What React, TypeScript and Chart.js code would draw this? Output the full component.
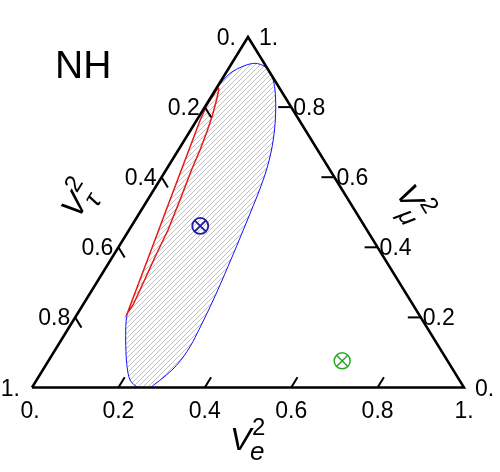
import React, { useEffect, useRef } from 'react';
import { Chart, registerables } from 'chart.js';

Chart.register(...registerables);

// ---------- data (ternary coordinates: V_e^2, V_mu^2 ; V_tau^2 = 1 - e - mu) ----------
const panelLabel = 'NH';
const labelValues = [0, 0.2, 0.4, 0.6, 0.8, 1];
const labelTexts = ['0.', '0.2', '0.4', '0.6', '0.8', '1.'];
const tickValues = [0.2, 0.4, 0.6, 0.8];

// blue allowed region outline (upper / right / lower boundary)
const blueE = [0.0, 0.010, 0.031, 0.054, 0.082, 0.112, 0.138, 0.1683, 0.194, 0.2156, 0.2325, 0.2449, 0.2549, 0.2644, 0.2738, 0.2826, 0.291, 0.2982, 0.3041, 0.3075, 0.3063, 0.3009, 0.2906, 0.2797, 0.273, 0.246, 0.2162, 0.1847, 0.1491, 0.1242, 0.1148];
const blueMu = [0.855, 0.896, 0.917, 0.925, 0.915, 0.887, 0.849, 0.7917, 0.7347, 0.6776, 0.6205, 0.5635, 0.5064, 0.4494, 0.3923, 0.3352, 0.2782, 0.2211, 0.1641, 0.1213, 0.0842, 0.0557, 0.03, 0.01, 0.0, 0.0, 0.0214, 0.069, 0.1355, 0.1869, 0.2117];

// red region: right side (top -> bottom tip) and left side (bottom tip -> top)
const redRightE = [0.0061, 0.017, 0.0291, 0.039, 0.0501, 0.0589, 0.0751, 0.0901, 0.098, 0.1109, 0.1161, 0.1148];
const redRightMu = [0.8536, 0.8203, 0.7775, 0.7347, 0.6776, 0.6205, 0.535, 0.4494, 0.378, 0.2782, 0.2354, 0.2117];
const redLeftE = [0.1074, 0.0798, 0.0519, 0.0244, 0.0078, 0.0023, 0.0028, 0.0026];
const redLeftMu = [0.2496, 0.3923, 0.535, 0.6776, 0.7632, 0.8031, 0.8345, 0.8536];

const bestFitE = [0.159];
const bestFitMu = [0.461];
const greenPointE = [0.680];
const greenPointMu = [0.076];

const triangleE = [0, 1, 0, 0];
const triangleMu = [0, 0, 1, 0];

const toXY = (e: number[], mu: number[]) => e.map((v, i) => ({ x: v + mu[i] / 2, y: mu[i] }));

const FONT = '"Liberation Sans", Arial, Helvetica, sans-serif';

function makeHatch(): CanvasPattern | string {
  const s = 5;
  const c = document.createElement('canvas');
  c.width = s;
  c.height = s;
  const g = c.getContext('2d');
  if (!g) return 'rgba(180,180,180,0.4)';
  g.strokeStyle = '#b0b0b0';
  g.lineWidth = 0.8;
  g.beginPath();
  g.moveTo(-1, s + 1);
  g.lineTo(s + 1, -1);
  g.moveTo(-1, 1);
  g.lineTo(1, -1);
  g.moveTo(s - 1, s + 1);
  g.lineTo(s + 1, s - 1);
  g.stroke();
  const p = g.createPattern(c, 'repeat');
  return p || 'rgba(180,180,180,0.4)';
}

function drawTitle(ctx: CanvasRenderingContext2D, ax: number, ay: number, rot: number, sub: string) {
  ctx.save();
  ctx.translate(ax, ay);
  ctx.rotate(rot);
  ctx.fillStyle = '#000';
  ctx.textAlign = 'left';
  ctx.textBaseline = 'alphabetic';
  ctx.font = `italic 32px ${FONT}`;
  ctx.fillText('V', 0, 0);
  ctx.font = `24px ${FONT}`;
  ctx.fillText('2', 22, -15);
  ctx.font = `italic 26px ${FONT}`;
  ctx.fillText(sub, 20, 10);
  ctx.restore();
}

const ternaryAxes = {
  id: 'ternaryAxes',
  afterDatasetsDraw(chart: any) {
    const { ctx } = chart;
    const xs = chart.scales.x;
    const ys = chart.scales.y;
    const P = (e: number, mu: number) => [xs.getPixelForValue(e + mu / 2), ys.getPixelForValue(mu)];
    const tick = (a: number[], b: number[], len: number) => {
      const dx = b[0] - a[0];
      const dy = b[1] - a[1];
      const d = Math.hypot(dx, dy);
      ctx.beginPath();
      ctx.moveTo(a[0], a[1]);
      ctx.lineTo(a[0] + (dx / d) * len, a[1] + (dy / d) * len);
      ctx.stroke();
    };
    ctx.save();
    ctx.strokeStyle = '#000';
    ctx.lineWidth = 2;
    ctx.lineCap = 'butt';
    tickValues.forEach((t) => {
      tick(P(t, 0), P(t, 0.1), 12); // V_e^2 (bottom)
      tick(P(0, 1 - t), P(0.1, 0.9 - t), 12); // V_tau^2 (left)
      tick(P(1 - t, t), P(0.9 - t, t), 13); // V_mu^2 (right)
    });

    ctx.fillStyle = '#000';
    ctx.font = `23px ${FONT}`;
    ctx.textBaseline = 'alphabetic';
    labelValues.forEach((t, i) => {
      const txt = labelTexts[i];
      const end = t === 0 || t === 1;
      const b = P(t, 0);
      ctx.textAlign = 'center';
      ctx.fillText(txt, b[0] - (t === 0 ? 2 : 0), b[1] + 30);
      const l = P(0, 1 - t);
      ctx.textAlign = 'right';
      ctx.fillText(txt, l[0] - (end ? 12 : 5), l[1] + 8);
      const r = P(1 - t, t);
      ctx.textAlign = 'left';
      ctx.fillText(txt, r[0] + (end ? 11 : 2), r[1] + 8);
    });

    ctx.font = `39px ${FONT}`;
    ctx.textAlign = 'left';
    ctx.fillText(panelLabel, 55, 78);

    const ang = Math.atan2(ys.getPixelForValue(0) - ys.getPixelForValue(1), xs.getPixelForValue(0.5) - xs.getPixelForValue(0));
    drawTitle(ctx, 230, 450, 0, 'e');
    drawTitle(ctx, 78, 220, -ang, 'τ');
    drawTitle(ctx, 395, 193, ang, 'μ');
    ctx.restore();
  },
};

export default function App() {
  const ref = useRef<HTMLCanvasElement | null>(null);
  useEffect(() => {
    document.body.style.margin = '0';
    const canvas = ref.current;
    if (!canvas) return;
    const hatch = makeHatch();
    const redPts = [...toXY(redRightE, redRightMu), ...toXY(redLeftE, redLeftMu), ...toXY(redRightE.slice(0, 1), redRightMu.slice(0, 1))];
    const hatchPts = [...toXY(blueE, blueMu), ...toXY(redLeftE, redLeftMu), ...toXY(blueE.slice(0, 1), blueMu.slice(0, 1))];
    const chart = new Chart(canvas, {
      type: 'scatter',
      data: {
        datasets: [
          {
            data: toXY(bestFitE, bestFitMu),
            pointStyle: 'circle',
            pointRadius: 8,
            borderColor: '#1c1c9e',
            backgroundColor: 'rgba(0,0,0,0)',
            borderWidth: 1.8,
            order: 0,
          } as any,
          {
            data: toXY(bestFitE, bestFitMu),
            pointStyle: 'crossRot',
            pointRadius: 8,
            borderColor: '#1c1c9e',
            borderWidth: 1.8,
            order: 0,
          } as any,
          {
            data: toXY(greenPointE, greenPointMu),
            pointStyle: 'circle',
            pointRadius: 8,
            borderColor: '#2aa52a',
            backgroundColor: 'rgba(0,0,0,0)',
            borderWidth: 1.5,
            order: 0,
          } as any,
          {
            data: toXY(greenPointE, greenPointMu),
            pointStyle: 'crossRot',
            pointRadius: 8,
            borderColor: '#2aa52a',
            borderWidth: 1.5,
            order: 0,
          } as any,
          {
            data: toXY(triangleE, triangleMu),
            showLine: true,
            pointRadius: 0,
            borderColor: '#000',
            borderWidth: 2.5,
            borderJoinStyle: 'miter',
            fill: false,
            clip: false,
            order: 1,
          } as any,
          {
            data: redPts,
            showLine: true,
            pointRadius: 0,
            borderColor: '#e41a1a',
            borderWidth: 1.5,
            fill: false,
            tension: 0,
            clip: false,
            order: 2,
          } as any,
          {
            data: toXY(blueE, blueMu),
            showLine: true,
            pointRadius: 0,
            borderColor: '#1010ff',
            borderWidth: 1,
            fill: false,
            tension: 0.3,
            clip: false,
            order: 3,
          } as any,
          {
            data: hatchPts,
            showLine: true,
            pointRadius: 0,
            borderWidth: 0,
            borderColor: 'rgba(0,0,0,0)',
            backgroundColor: hatch,
            fill: 'shape',
            tension: 0.3,
            clip: false,
            order: 4,
          } as any,
        ],
      },
      options: {
        responsive: false,
        animation: false,
        events: [],
        layout: { padding: { left: 32, right: 36, top: 37, bottom: 84.5 } },
        scales: {
          x: { type: 'linear', min: 0, max: 1, display: false },
          y: { type: 'linear', min: 0, max: 1, display: false },
        },
        plugins: {
          legend: { display: false },
          tooltip: { enabled: false },
        },
      },
      plugins: [ternaryAxes],
    } as any);
    return () => chart.destroy();
  }, []);
  return (
    <div style={{ width: 500, height: 472, background: '#fff' }}>
      <canvas ref={ref} width={500} height={472} style={{ display: 'block' }} />
    </div>
  );
}
